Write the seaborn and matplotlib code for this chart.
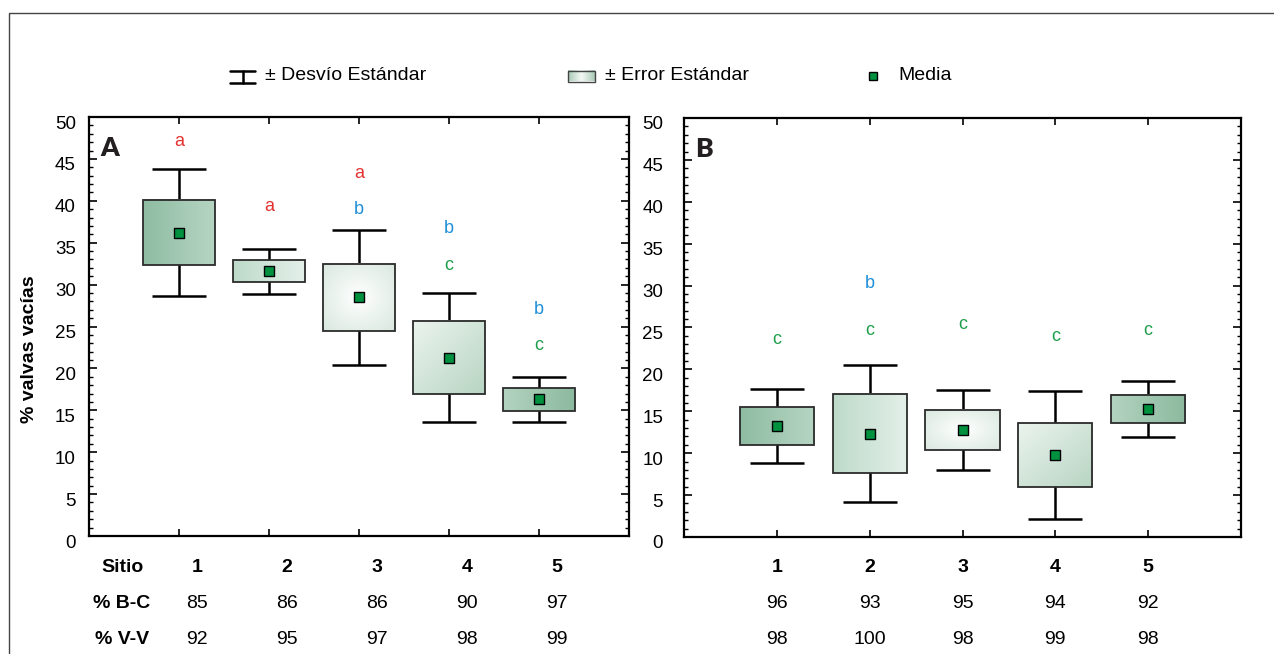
import numpy as np
import pandas as pd
import matplotlib
matplotlib.use("Agg")
import matplotlib.pyplot as plt
import matplotlib.transforms as mtransforms
from matplotlib.patches import Rectangle
from matplotlib.ticker import MultipleLocator
import seaborn as sns

# datos (media, error estandar, desvio estandar)
sites = [1, 2, 3, 4, 5]

mean_a = [36.2, 31.6, 28.5, 21.3, 16.3]
se_a = [3.9, 1.3, 4.0, 4.4, 1.35]
sd_a = [7.55, 2.7, 8.05, 7.75, 2.65]

mean_b = [13.25, 12.35, 12.8, 9.8, 15.3]
se_b = [2.25, 4.75, 2.4, 3.8, 1.7]
sd_b = [4.4, 8.15, 4.8, 7.6, 3.35]

# letras de significancia y su altura
letters_a = [["a"], ["a"], ["a", "b"], ["b", "c"], ["b", "c"]]
letters_a_y = [[47.1], [39.3], [43.3, 39.0], [36.7, 32.3], [27.0, 22.7]]
letters_b = [["c"], ["b", "c"], ["c"], ["c"], ["c"]]
letters_b_y = [[23.6], [30.2, 24.7], [25.3], [23.9], [24.7]]

# tabla inferior
bc_a = [85, 86, 86, 90, 97]
vv_a = [92, 95, 97, 98, 99]
bc_b = [96, 93, 95, 94, 92]
vv_b = [98, 100, 98, 99, 98]

letter_colors = {"a": "#e3322f", "b": "#1f8fd8", "c": "#1e9e4a"}
box_styles = ["lr_dark", "lr_mid", "radial", "diag", "rl_dark"]
BOX_W = 0.8


def hexc(h):
    return np.array([int(h[i:i + 2], 16) for i in (1, 3, 5)]) / 255.0


def gradient(style, n=64):
    u, v = np.meshgrid(np.linspace(0, 1, n), np.linspace(0, 1, n))
    if style == "lr_dark":
        t, c0, c1 = u, hexc("#8ebca2"), hexc("#b6d5c3")
    elif style == "rl_dark":
        t, c0, c1 = u, hexc("#b3d3c0"), hexc("#8cba9f")
    elif style == "lr_mid":
        t, c0, c1 = u, hexc("#bddac9"), hexc("#e4f0e9")
    elif style == "radial":
        t = np.clip(np.sqrt((u - 0.5) ** 2 + (v - 0.5) ** 2) / 0.7, 0, 1)
        c0, c1 = hexc("#ffffff"), hexc("#d9e8df")
    elif style == "legend":
        t = np.abs(u - 0.5) * 2
        c0, c1 = hexc("#f4f9f6"), hexc("#a9cbb7")
    else:
        t = (u + v) / 2
        c0, c1 = hexc("#ebf4ee"), hexc("#b8d5c3")
    return c0 + (c1 - c0) * t[..., None]


sns.set_style("ticks")
plt.rcParams["font.family"] = ["Liberation Sans", "DejaVu Sans"]
plt.rcParams["text.color"] = "black"
plt.rcParams["xtick.color"] = "black"
plt.rcParams["ytick.color"] = "black"
plt.rcParams["axes.labelcolor"] = "black"

fig = plt.figure(figsize=(12.74, 6.54), dpi=100)
axA = fig.add_axes([0.0699, 0.1804, 0.4238, 0.6407])
axB = fig.add_axes([0.5369, 0.1789, 0.4372, 0.6407])


def draw_panel(ax, means, ses, sds, letters, letters_y, tag, pad):
    for i, site in enumerate(sites):
        lo, hi = means[i] - ses[i], means[i] + ses[i]
        ax.imshow(gradient(box_styles[i]), extent=(site - BOX_W / 2, site + BOX_W / 2, lo, hi),
                  aspect="auto", interpolation="bilinear", zorder=2)
        ax.add_patch(Rectangle((site - BOX_W / 2, lo), BOX_W, hi - lo, fill=False,
                               ec="#2b2b2b", lw=1.3, zorder=3))
    ax.errorbar(sites, means, yerr=sds, fmt="none", ecolor="black", elinewidth=1.8,
                capsize=19.5, capthick=1.8, zorder=1)
    df = pd.DataFrame({"sitio": sites, "media": means})
    sns.scatterplot(data=df, x="sitio", y="media", marker="s", s=42, color="#00913f",
                    edgecolor="black", linewidth=1.0, ax=ax, zorder=4, legend=False)
    for i, site in enumerate(sites):
        for let, ly in zip(letters[i], letters_y[i]):
            ax.text(site, ly, let, color=letter_colors[let], fontsize=13,
                    ha="center", va="center")
    ax.text(0.02, 0.925, tag, transform=ax.transAxes, fontsize=19, fontweight="heavy",
            family=["Lato", "DejaVu Sans"], ha="left", va="center", color="#231f20")

    ax.set_xlim(0, 6)
    ax.set_ylim(0, 50)
    ax.set_xlabel("")
    ax.set_ylabel("")
    ax.set_xticks(sites)
    ax.set_xticklabels([])
    ax.yaxis.set_major_locator(MultipleLocator(5))
    ax.yaxis.set_minor_locator(MultipleLocator(1))
    ax.tick_params(axis="x", direction="in", top=True, bottom=True, length=5, width=1.2)
    ax.tick_params(axis="y", which="major", direction="in", left=True, right=True,
                   length=6, width=1.2, labelsize=13.5, pad=pad, labelcolor="black")
    ax.tick_params(axis="y", which="minor", direction="in", left=True, right=True,
                   length=3, width=1.0)
    for sp in ax.spines.values():
        sp.set_visible(True)
        sp.set_linewidth(1.6)
        sp.set_color("black")
    off = mtransforms.ScaledTranslation(0, -5 / 100, fig.dpi_scale_trans)
    for lab in ax.get_yticklabels():
        lab.set_transform(lab.get_transform() + off)


draw_panel(axA, mean_a, se_a, sd_a, letters_a, letters_a_y, "A", 9.5)
draw_panel(axB, mean_b, se_b, sd_b, letters_b, letters_b_y, "B", 15)

# tabla debajo de los paneles
rows_y = [1 - 568 / 654, 1 - 604 / 654, 1 - 640 / 654]
for ax, bc, vv, dx in [(axA, bc_a, vv_a, 0.2), (axB, bc_b, vv_b, 0.0)]:
    tr = mtransforms.blended_transform_factory(ax.transData, fig.transFigure)
    for i, site in enumerate(sites):
        ax.text(site + dx, rows_y[0], str(site), transform=tr, fontsize=14,
                fontweight="bold", ha="center", va="center", clip_on=False)
        ax.text(site + dx, rows_y[1], str(bc[i]), transform=tr, fontsize=14,
                ha="center", va="center", clip_on=False)
        ax.text(site + dx, rows_y[2], str(vv[i]), transform=tr, fontsize=14,
                ha="center", va="center", clip_on=False)
for lab, ry in zip(["Sitio", "% B-C", "% V-V"], rows_y):
    fig.text(122 / 1274, ry, lab, fontsize=14, fontweight="bold", ha="center", va="center")

fig.text(30 / 1274, 1 - 349 / 654, "% valvas vacías", rotation=90, fontsize=14,
         fontweight="bold", ha="center", va="center")

# leyenda superior y marco, en coordenadas de pixel
ov = fig.add_axes([0, 0, 1, 1], zorder=-1)
ov.set_xlim(0, 1274)
ov.set_ylim(654, 0)
ov.axis("off")
ov.add_patch(Rectangle((8.5, 12.5), 1400, 800, fill=False, ec="#444444", lw=1.0))

lax = fig.add_axes([0, 0, 1, 1], zorder=5)
lax.set_xlim(0, 1274)
lax.set_ylim(654, 0)
lax.axis("off")
lax.plot([230, 255], [71, 71], color="black", lw=1.8)
lax.plot([230, 255], [82.5, 82.5], color="black", lw=1.8)
lax.plot([242.5, 242.5], [71, 82.5], color="black", lw=1.8)
lax.text(265, 76, "± Desvío Estándar", fontsize=14, ha="left", va="center")
lax.imshow(gradient("legend"), extent=(568, 595, 81.5, 70.5), aspect="auto",
           interpolation="bilinear", zorder=2)
lax.add_patch(Rectangle((568, 70.5), 27, 11, fill=False, ec="#444444", lw=1.0, zorder=3))
lax.text(605, 76, "± Error Estándar", fontsize=14, ha="left", va="center")
lax.plot([873], [76], marker="s", ms=6, color="#00913f", mec="black", mew=1.0)
lax.text(898, 76, "Media", fontsize=14, ha="left", va="center")
lax.set_xlim(0, 1274)
lax.set_ylim(654, 0)

fig.savefig("out.png", dpi=100)
